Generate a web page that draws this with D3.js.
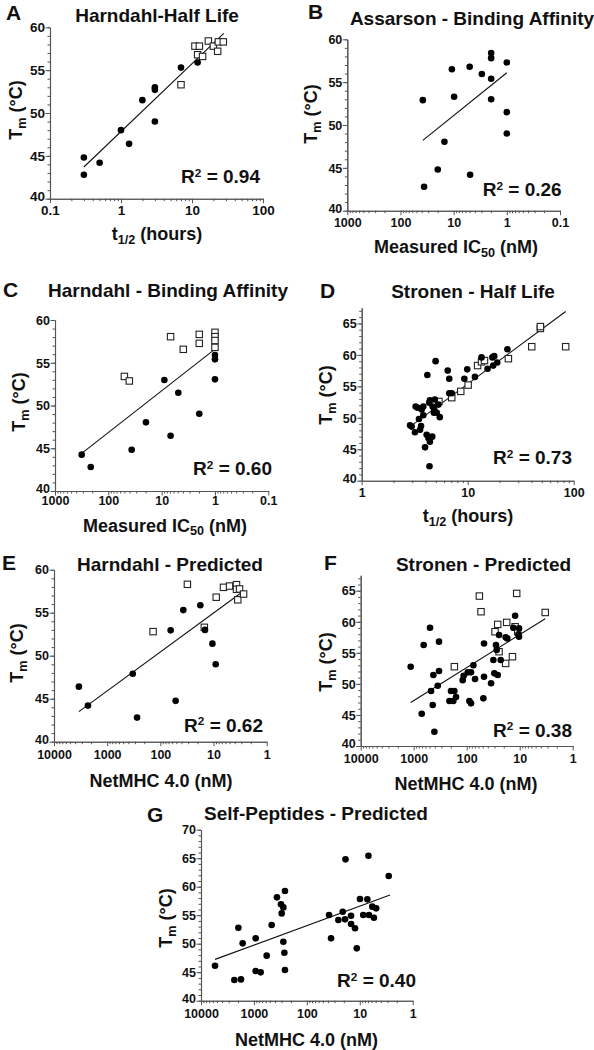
<!DOCTYPE html>
<html><head><meta charset="utf-8">
<script src="https://cdn.jsdelivr.net/npm/d3@7"></script>
<style>
body{margin:0;background:#fff}
svg{display:block}
text{font-family:"Liberation Sans",Arial,sans-serif;font-weight:bold;fill:#111}
</style>
</head><body>
<svg id="c" width="594" height="1050"></svg>
<script>
// ---------- DATA ----------
// Panel A: Harndahl - Half Life (x: t1/2 hours, y: Tm)
const A_filled = [[0.3,44.8],[0.3,42.8],[0.5,44.2],[1,48],[1.3,46.4],[2,51.5],[3,53],[3,52.7],[3,49],[7,55.3],[12,55.9]];
const A_open = [[7,53.3],[11,57.8],[12.7,57.8],[12,56.8],[14.1,56.6],[17,58.4],[20,57.8],[23.5,58.3],[23,57.2],[27.6,58.3]];
const A_fit = [[0.3,43.7],[28,59.3]];
const A_xTicks = [0.1,1,10,100];
const A_r2 = "0.94";

// Panel B: Assarson - Binding Affinity (x: IC50 nM)
const B_filled = [[38,52.9],[36,42.8],[19.9,44.8],[14.9,48.05],[10.8,56.5],[9.8,53.3],[5.0,56.8],[4.9,44.2],[2.95,55.95],[1.97,58.4],[1.97,57.8],[1.97,55.4],[1.97,53.0],[1,57.3],[1,51.5],[1,49.0]];
const B_fit = [[38,48.2],[1,56.1]];
const B_xTicks = [1000,100,10,1,0.1];
const B_r2 = "0.26";

// Panel C: Harndahl - Binding Affinity
const C_filled = [[316,44.25],[214,42.8],[36.5,44.83],[19.7,48.03],[8.9,52.98],[6.8,46.47],[4.87,51.5],[1.97,49.04],[1,55.9],[1,55.4],[1,53.06]];
const C_open = [[50,53.4],[40.4,52.87],[6.8,58.05],[3.93,56.57],[1.97,58.32],[1.97,57.27],[1,58.56],[1,58.05],[1,57.6],[1,56.8]];
const C_fit = [[316,44.4],[1,56.6]];
const C_xTicks = [1000,100,10,1,0.1];
const C_r2 = "0.60";

// Panel D: Stronen - Half Life
const D_filled = [[2.86,48.8],[2.96,48.6],[3.18,47.7],[3.23,51.8],[3.37,51.6],[3.47,49.8],[3.55,48.1],[3.63,48.7],[3.68,51.3],[3.81,51.8],[3.96,45.3],[4.1,47.3],[4.16,56.8],[4.26,46.8],[4.36,42.3],[4.4,52.8],[4.4,46.2],[4.63,47.0],[4.67,51.8],[4.83,51.3],[4.9,52.9],[4.98,59.0],[5.1,50.8],[5.3,52.1],[5.45,50.1],[3.81,50.4],[4.34,52.4],[4.8,50.8],[6.48,57.5],[6.7,56.2],[6.7,53.9],[7.07,53.9],[9.3,56.2],[9.9,57.7],[11.7,56.5],[13.5,59.6],[15.4,57.8],[17.1,59.6],[17.8,59.8],[17.4,58.3],[19,58.8],[23.7,60.9]];
const D_open = [[5.35,52.6],[7.07,53.2],[8.6,54.2],[10.1,55.2],[12.4,58.3],[13.5,58.9],[14.4,59.1],[24.2,59.4],[40.2,61.3],[48.5,64.2],[48.5,64.5],[84,61.3]];
const D_fit = [[2.86,48.6],[84,66.9]];
const D_xTicks = [1,10,100];
const D_r2 = "0.73";

// Panel E: Harndahl - Predicted (x: NetMHC 4.0 nM)
const E_filled = [[3400,46.4],[2300,44.2],[330,47.9],[274,42.8],[64,52.95],[51.6,44.75],[37,55.3],[17.7,55.86],[14.5,53.0],[10.5,51.4],[9.1,49.0]];
const E_open = [[137,52.8],[14.9,53.3],[31,58.3],[8.9,56.8],[6.5,57.95],[5.0,58.1],[3.7,58.26],[3.7,57.72],[3.24,57.76],[3.5,56.5],[2.72,57.17]];
const E_fit = [[3400,43.5],[3.2,57.2]];
const E_xTicks = [10000,1000,100,10,1];
const E_r2 = "0.62";

// Panel F: Stronen - Predicted
const F_filled = [[1140,52.77],[706,45.2],[648,56.26],[492,59.05],[471,48.85],[438,46.6],[426,51.43],[407,42.3],[352,49.7],[333,52.07],[333,56.8],[212,47.24],[198,48.85],[179,47.24],[171,48.85],[159,47.9],[119,50.6],[114,51.3],[95.5,51.86],[89,47.24],[82.9,51.86],[82.9,46.87],[74.8,53.0],[69.6,50.78],[48.5,47.67],[47.1,56.5],[47.1,51.16],[34.7,50.1],[31.4,53.84],[30.1,51.7],[28,56.26],[27.2,55.45],[26,51.43],[24.5,57.86],[22.8,53.84],[18.4,57.49],[17.1,57.3],[13.2,59.05],[12.2,60.98],[10.6,57.97],[10.3,58.94],[10.3,57.6]];
const F_open = [[171,52.77],[57.7,64.14],[53.7,61.62],[29.2,58.4],[26,59.58],[24.5,55.18],[18.4,53.3],[17.6,59.9],[13.7,54.38],[12.2,59.2],[11.4,64.57],[10.9,58.4],[3.3,61.5]];
const F_fit = [[1140,47.0],[3.3,60.5]];
const F_xTicks = [10000,1000,100,10,1];
const F_r2 = "0.38";

// Panel G: Self-Peptides - Predicted
const G_filled = [[5430,46.14],[2345,43.63],[1754,43.74],[1968,52.8],[1633,50.06],[927,50.94],[927,45.2],[745,44.97],[574,47.9],[462,53.27],[367,58.13],[308,56.9],[299,55.32],[278,56.37],[278,50.35],[266,48.42],[259,59.24],[259,45.38],[18.6,64.8],[6.86,65.44],[2.84,61.88],[38.1,55.03],[34.9,50.94],[25.4,54.15],[21,55.6],[19,54.27],[14.6,54.9],[14.6,53.45],[12.3,52.7],[11.4,49.18],[9.9,57.84],[8.6,55.03],[7.2,57.78],[6.7,55.03],[5.8,56.5],[5.4,54.56],[4.9,56.2]];
const G_open = [];
const G_fit = [[5430,47.25],[2.68,58.54]];
const G_xTicks = [10000,1000,100,10,1];
const G_r2 = "0.40";

const yTicks60 = [40,45,50,55,60];
const yTicks65 = [40,45,50,55,60,65];
const yTicks70 = [40,45,50,55,60,65,70];

const titles = ["Harndahl-Half Life","Assarson - Binding Affinity","Harndahl - Binding Affinity","Stronen - Half Life","Harndahl - Predicted","Stronen - Predicted","Self-Peptides - Predicted"];
const letters = ["A","B","C","D","E","F","G"];

// ---------- DRAW ----------
const svg = d3.select("#c");
const FONT = '"Liberation Sans",Arial,sans-serif';

function fmt(v){ return String(v); }

function panel(p){
  const g = svg.append("g");
  const x = d3.scaleLog().domain(p.xDomain).range([p.x0,p.x1]);
  const y = d3.scaleLinear().domain(p.yDomain).range([p.yBot,p.yTop]);
  const ac = "#555";

  const yMinor = d3.range(p.yDomain[0], Math.floor(p.yDomain[1])+1, 1);
  const yMin = g.append("g").attr("transform",`translate(${p.x0},0)`)
    .call(d3.axisLeft(y).tickValues(yMinor).tickSize(2.5).tickSizeOuter(0).tickFormat(""));
  const yMaj = g.append("g").attr("transform",`translate(${p.x0},0)`)
    .call(d3.axisLeft(y).tickValues(p.yTicks).tickSize(4.5).tickSizeOuter(0).tickPadding(2).tickFormat(d3.format("d")));
  const lo = Math.min(...p.xDomain), hi = Math.max(...p.xDomain);
  const xMinor = [];
  for(let e=Math.round(Math.log10(lo)); e<Math.round(Math.log10(hi)); e++){
    for(let k=2;k<=9;k++) xMinor.push(k*Math.pow(10,e));
  }
  const xMin = g.append("g").attr("transform",`translate(0,${p.yBot})`)
    .call(d3.axisBottom(x).tickValues(xMinor).tickSize(2.5).tickSizeOuter(0).tickFormat(""));
  const xMaj = g.append("g").attr("transform",`translate(0,${p.yBot})`)
    .call(d3.axisBottom(x).tickValues(p.xTicks).tickSize(4.5).tickSizeOuter(0).tickFormat(fmt));

  [yMin,yMaj,xMin,xMaj].forEach(a=>{
    a.selectAll("path").attr("stroke",ac).attr("stroke-width",1.1);
    a.selectAll("line").attr("stroke",ac).attr("stroke-width",1);
    a.attr("font-family",FONT);
  });
  yMaj.selectAll("text").attr("font-size",p.tickFs).attr("font-weight","bold").attr("fill","#111")
    .attr("x",-5).attr("dy",d => d===p.yDomain[0] ? "0.12em" : "0.34em");
  xMaj.selectAll("text").attr("font-size",p.tickFs).attr("font-weight","bold").attr("fill","#111")
    .attr("y",p.xtb - p.yBot).attr("dy",null);

  g.append("path").datum(p.fit)
    .attr("d",d3.line().x(d=>x(d[0])).y(d=>y(d[1])))
    .attr("stroke","#111").attr("stroke-width",1.1).attr("fill","none");

  const s = 6.4;
  g.selectAll("rect.o").data(p.open).enter().append("rect")
    .attr("x",d=>x(d[0])-s/2).attr("y",d=>y(d[1])-s/2)
    .attr("width",s).attr("height",s)
    .attr("fill","#fff").attr("stroke","#222").attr("stroke-width",1.1);
  g.selectAll("circle.f").data(p.filled).enter().append("circle")
    .attr("cx",d=>x(d[0])).attr("cy",d=>y(d[1])).attr("r",3.3).attr("fill","#000");

  g.append("text").attr("x",p.lx).attr("y",p.ly).attr("font-size",21).text(p.letter);
  g.append("text").attr("x",p.tx).attr("y",p.ty).attr("text-anchor","middle").attr("font-size",19).text(p.title);

  const xl = g.append("text").attr("x",p.xlx).attr("y",p.xly).attr("text-anchor","middle").attr("font-size",18);
  if(p.xlabel === "t"){
    xl.append("tspan").text("t");
    xl.append("tspan").attr("font-size","0.7em").attr("dy","0.3em").text("1/2");
    xl.append("tspan").attr("dy","-0.21em").text(" (hours)");
  } else if(p.xlabel === "ic"){
    xl.append("tspan").text("Measured IC");
    xl.append("tspan").attr("font-size","0.7em").attr("dy","0.3em").text("50");
    xl.append("tspan").attr("dy","-0.21em").text(" (nM)");
  } else {
    xl.text("NetMHC 4.0 (nM)");
  }

  const yl = g.append("text").attr("transform",`translate(${p.ylx},${p.yly}) rotate(-90)`)
    .attr("text-anchor","middle").attr("font-size",18);
  yl.append("tspan").text("T");
  yl.append("tspan").attr("font-size","0.7em").attr("dy","0.3em").text("m");
  yl.append("tspan").attr("dy","-0.21em").text(" (°C)");

  const r = g.append("text").attr("x",p.rx).attr("y",p.ry).attr("text-anchor","end").attr("font-size",19);
  r.append("tspan").text("R");
  r.append("tspan").attr("font-size","0.62em").attr("dy","-0.55em").text("2");
  r.append("tspan").attr("dy","0.34em").text(" = " + p.r2);
}

const panels = [
  {letter:letters[0],title:titles[0],filled:A_filled,open:A_open,fit:A_fit,xTicks:A_xTicks,r2:A_r2,
   xDomain:[0.1,100],yDomain:[40,60],yTicks:yTicks60,x0:50,x1:263,yTop:27.3,yBot:198.7,tickFs:13.5,xtb:215.5,
   lx:6,ly:20,tx:157,ty:21.7,xlabel:"t",xlx:157,xly:240,ylx:22,yly:110,rx:260,ry:183},
  {letter:letters[1],title:titles[1],filled:B_filled,open:[],fit:B_fit,xTicks:B_xTicks,r2:B_r2,
   xDomain:[1000,0.1],yDomain:[40,60],yTicks:yTicks60,x0:347.3,x1:560,yTop:39.3,yBot:210.7,tickFs:12.5,xtb:227,
   lx:308,ly:19,tx:472,ty:25,xlabel:"ic",xlx:456,xly:253,ylx:317,yly:114,rx:561.7,ry:196},
  {letter:letters[2],title:titles[2],filled:C_filled,open:C_open,fit:C_fit,xTicks:C_xTicks,r2:C_r2,
   xDomain:[1000,0.1],yDomain:[40,60],yTicks:yTicks60,x0:55,x1:268.3,yTop:320,yBot:491,tickFs:12.5,xtb:505,
   lx:3,ly:297,tx:168,ty:297,xlabel:"ic",xlx:165,xly:531.5,ylx:25,yly:402,rx:272,ry:475},
  {letter:letters[3],title:titles[3],filled:D_filled,open:D_open,fit:D_fit,xTicks:D_xTicks,r2:D_r2,
   xDomain:[1,100],yDomain:[40,67.5],yTicks:yTicks65,x0:361.7,x1:573.7,yTop:307.7,yBot:480.7,tickFs:12.5,xtb:497.5,
   lx:320,ly:298,tx:473,ty:298,xlabel:"t",xlx:468,xly:522,ylx:332,yly:395,rx:572,ry:464},
  {letter:letters[4],title:titles[4],filled:E_filled,open:E_open,fit:E_fit,xTicks:E_xTicks,r2:E_r2,
   xDomain:[10000,1],yDomain:[40,60],yTicks:yTicks60,x0:54,x1:266.7,yTop:569.7,yBot:741.7,tickFs:12.5,xtb:759,
   lx:2,ly:570,tx:170,ty:571,xlabel:"net",xlx:161,xly:786.5,ylx:23,yly:653,rx:263,ry:731.7},
  {letter:letters[5],title:titles[5],filled:F_filled,open:F_open,fit:F_fit,xTicks:F_xTicks,r2:F_r2,
   xDomain:[10000,1],yDomain:[40,67.5],yTicks:yTicks65,x0:360.7,x1:572.7,yTop:575.2,yBot:746,tickFs:12.5,xtb:762.5,
   lx:324,ly:570,tx:483.5,ty:571,xlabel:"net",xlx:466,xly:790,ylx:332,yly:662,rx:572,ry:736.7},
  {letter:letters[6],title:titles[6],filled:G_filled,open:G_open,fit:G_fit,xTicks:G_xTicks,r2:G_r2,
   xDomain:[10000,1],yDomain:[40,70],yTicks:yTicks70,x0:201,x1:412.7,yTop:829.7,yBot:1000.7,tickFs:12.5,xtb:1018.5,
   lx:147,ly:821.7,tx:316,ty:820,xlabel:"net",xlx:306.5,xly:1046,ylx:172,yly:918,rx:416,ry:987}
];
panels.forEach(panel);
</script>
</body></html>
